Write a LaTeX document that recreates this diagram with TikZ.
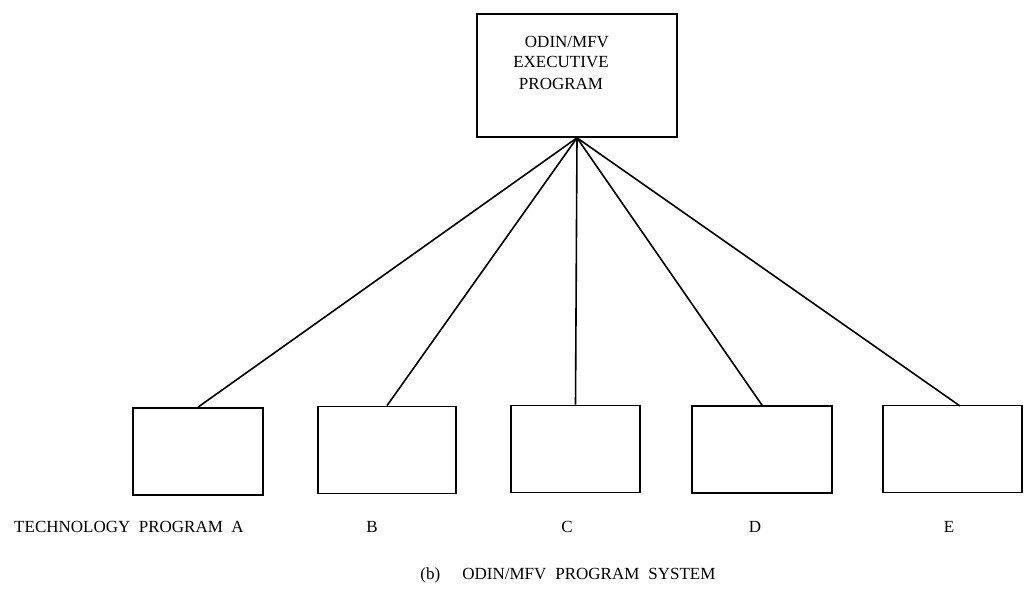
\documentclass[tikz,border=0pt]{standalone}
\usepackage{fontspec}
\setmainfont{Liberation Serif}
\usepackage{tikz}

\tikzset{
  prog box/.style={draw,line width=1.7pt,minimum width=130pt,minimum height=87pt,inner sep=0pt},
  exec box/.style={draw,line width=1.7pt,minimum width=200pt,minimum height=123pt,inner sep=0pt},
  link/.style={line width=1.6pt},
  lbl/.style={font=\fontsize{17}{20}\selectfont,anchor=base,inner sep=0pt}
}

\begin{document}
\begin{tikzpicture}[x=1pt,y=-1pt]
  \useasboundingbox[fill=white] (0,0) rectangle (1025,592);
  %executive
  \node[exec box] (exec) at (577,75.5) {};
  \node[lbl] (exec1) at (567,47) {ODIN/MFV};
  \node[lbl] (exec2) at (561,67) {EXECUTIVE};
  \node[lbl] (exec3) at (561,89) {PROGRAM};
  %technology programs
  \node[prog box] (pa) at (198,451.5) {};
  \node[prog box,minimum width=138pt] (pb) at (387,450) {};
  \node[prog box,minimum width=129pt] (pc) at (575.5,449) {};
  \node[prog box,minimum width=140pt] (pd) at (762,449.5) {};
  \node[prog box,minimum width=139pt] (pe) at (952.5,449) {};
  \coordinate (pe top) at (960,406);
  %links
  \draw[link] (exec.south) -- (pa.north);
  \draw[link] (exec.south) -- (pb.north);
  \draw[link] (exec.south) -- (pc.north);
  \draw[link] (exec.south) -- (pd.north);
  \draw[link] (exec.south) -- (pe top);
  %labels
  \node[lbl] (la) at (129,532) {TECHNOLOGY\ \ PROGRAM\ \ A};
  \node[lbl] (lb) at (372,532) {B};
  \node[lbl] (lc) at (567,532) {C};
  \node[lbl] (ld) at (755,532) {D};
  \node[lbl] (le) at (949,532) {E};
  \node[lbl] (caption) at (568,579) {(b)\hspace{22pt}ODIN/MFV\hspace{9pt}PROGRAM\hspace{9pt}SYSTEM};
\end{tikzpicture}
\end{document}
